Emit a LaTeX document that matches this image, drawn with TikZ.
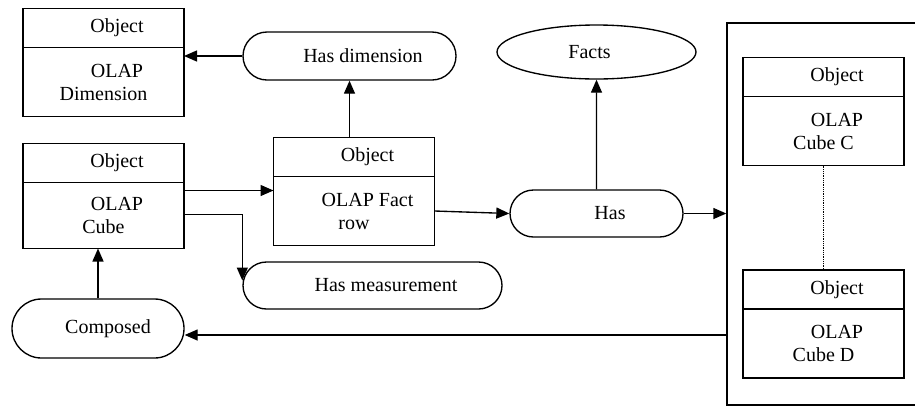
\documentclass[tikz,border=0pt]{standalone}
\usepackage{fontspec}
\setmainfont{Liberation Serif}
\usetikzlibrary{arrows.meta,positioning,shapes.misc,shapes.geometric}

\begin{document}
\begin{tikzpicture}[x=1pt,y=-1pt,node distance= 0 and 0,font=\fontsize{20}{23}\selectfont,line width=1.35pt]
\def\firsttab{\hspace*{27pt}}
\tikzstyle{objhead}=[draw,minimum width=161pt,minimum height=39pt,inner sep=0pt,outer sep=0pt]
\tikzstyle{objbody}=[draw,minimum width=161pt,minimum height=69pt,inner sep=0pt,outer sep=0pt,align=center]
\tikzstyle{rel}=[draw,rounded rectangle,minimum height=47pt,inner sep=0pt]
\tikzstyle{arr}=[-{Triangle[length=13pt,width=11pt]}]

\useasboundingbox (0,0) rectangle (915,408);

% object boxes (header + body)
\node[objhead] (dimh) at (103.5,28) {\firsttab Object};
\node[objbody, below =of dimh] (dim) {\firsttab OLAP\\Dimension};
\node[objhead] (cubeh) at (103.5,163) {\firsttab Object};
\node[objbody, below =of cubeh, minimum height=66pt] (cube) {\firsttab OLAP\\Cube};
\node[objhead] (facth) at (354,157) {\firsttab Object};
\node[objbody, below =of facth] (fact) {\firsttab OLAP Fact\\row};

\node[draw,minimum width=198pt,minimum height=382pt] (cont) at (826,214) {};
\node[objhead] (cch) at (823.5,77) {\firsttab Object};
\node[objbody, below =of cch] (cc) {\firsttab OLAP\\Cube C};
\node[objhead] (cdh) at (823.5,289.5) {\firsttab Object};
\node[objbody, below =of cdh] (cd) {\firsttab OLAP\\Cube D};

% relations
\node[rel,minimum width=213pt,minimum height=48pt] (hasdim) at (349.5,56) {\firsttab Has dimension};
\node[draw,ellipse,minimum width=199pt,minimum height=54pt,inner sep=0pt] (facts) at (596.5,52) {Facts\hspace*{14pt}};
\node[rel,minimum width=173pt] (has) at (596.5,213.5) {\firsttab Has};
\node[rel,minimum width=259pt] (hasmeas) at (372.5,285.5) {\firsttab Has measurement};
\node[rel,minimum width=172pt,minimum height=59pt] (comp) at (98,328.5) {\hspace*{20pt}Composed};

% connectors
\coordinate (cf) at ([yshift=25pt]cube.east);
\coordinate (ce) at ([yshift=-6.5pt]comp.east);
\draw[arr] (hasdim) -- (hasdim -| dim.east);
\draw[arr] (hasdim.south |- facth.north) -- (hasdim.south);
\draw[arr] (cf) -- (cf -| fact.west);
\draw[arr] ([yshift=1pt]cube.east) -| ([yshift=5pt]hasmeas.west);
\draw[arr] (fact.east) -- (has.west);
\draw[arr] (has.east) -- (has.east -| cont.west);
\draw[arr] (has) -- (facts);
\draw[arr] (comp.north) -- (comp.north |- cube.south);
\draw[arr] (ce -| cont.west) -- (ce);
\draw[densely dotted,line width=0.8pt] (cc) -- (cdh);
\end{tikzpicture}
\end{document}
